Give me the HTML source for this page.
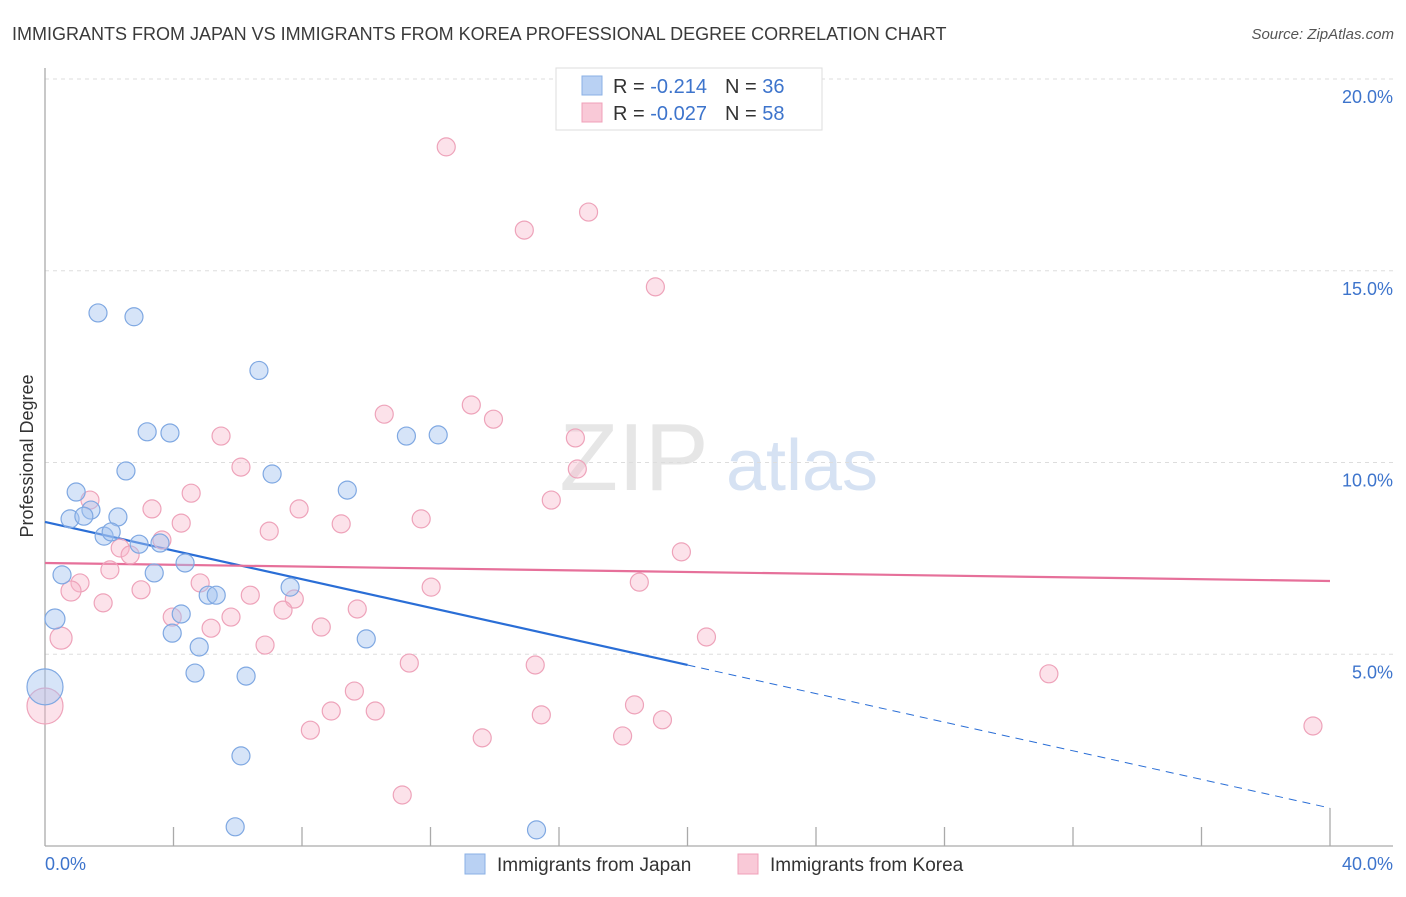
<!DOCTYPE html>
<html><head><meta charset="utf-8">
<style>
html,body{margin:0;padding:0;background:#fff;}
body{width:1406px;height:892px;overflow:hidden;font-family:"Liberation Sans",sans-serif;}
svg text{font-family:"Liberation Sans",sans-serif;}
</style></head>
<body>
<svg id="chart" width="1406" height="892" viewBox="0 0 1406 892" xmlns="http://www.w3.org/2000/svg">
<text x="12" y="40" font-size="18" fill="#3a3a3a">IMMIGRANTS FROM JAPAN VS IMMIGRANTS FROM KOREA PROFESSIONAL DEGREE CORRELATION CHART</text>
<text x="1394" y="39" font-size="15" fill="#555" font-style="italic" text-anchor="end">Source: ZipAtlas.com</text>
<g>
<text x="634" y="490" font-size="96" fill="#e6e6e6" font-family="Liberation Serif" text-anchor="middle">ZIP</text>
<text x="802" y="490" font-size="72" fill="#d6e2f3" text-anchor="middle">atlas</text>
</g>
<g id="grid"></g>
<g id="axes"></g>
<g id="trends"></g>
<g id="points"></g>
<text transform="translate(33,456) rotate(-90)" font-size="18" fill="#333" text-anchor="middle">Professional Degree</text>
<g>
<rect x="556" y="68" width="266" height="62" fill="#fff" stroke="#ddd"/>
<rect x="582" y="76" width="20" height="19" fill="#b9d1f3" stroke="#8ab0e6"/>
<rect x="582" y="103" width="20" height="19" fill="#f9c9d7" stroke="#f0a0b8"/>
<text x="613" y="93" font-size="20" fill="#333">R = <tspan fill="#3d74cc"> -0.214</tspan><tspan dx="18" fill="#333">N = </tspan><tspan fill="#3d74cc">36</tspan></text>
<text x="613" y="120" font-size="20" fill="#333">R = <tspan fill="#3d74cc">-0.027</tspan><tspan dx="18" fill="#333">N = </tspan><tspan fill="#3d74cc">58</tspan></text>
</g>
<g>
<rect x="465" y="854" width="20" height="20" fill="#b9d1f3" stroke="#8ab0e6"/>
<text x="497" y="871" font-size="19" fill="#333">Immigrants from Japan</text>
<rect x="738" y="854" width="20" height="20" fill="#f9c9d7" stroke="#f0a0b8"/>
<text x="770" y="871" font-size="19" fill="#333">Immigrants from Korea</text>
</g>
</svg>
<script>
const japanX=[1.65,2.77,6.66,3.18,3.89,11.25,12.24,2.52,7.07,9.41,0.97,1.43,0.78,1.21,2.27,1.84,2.06,2.93,3.58,0.53,3.4,4.36,7.63,5.08,5.33,4.24,0.31,3.96,4.8,10.0,4.67,6.26,0,6.1,5.92,15.3];
const japanY=[13.9,13.8,12.4,10.8,10.77,10.69,10.72,9.78,9.7,9.28,9.23,8.76,8.53,8.6,8.58,8.08,8.19,7.87,7.9,7.07,7.12,7.38,6.75,6.54,6.54,6.05,5.92,5.55,5.19,5.4,4.51,4.43,4.15,2.35,0.5,0.42];
const japanR=[9,9,9,9,9,9,9,9,9,9,9,9,9,9,9,9,9,9,9,9,9,9,9,9,9,9,10,9,9,9,9,9,18,9,9,9];
const koreaX=[12.49,16.92,14.92,19.0,13.27,10.56,13.96,5.48,16.51,6.1,16.57,1.4,4.55,15.76,3.33,7.91,4.24,11.71,9.22,6.98,2.34,2.65,3.64,19.81,2.02,1.09,4.83,18.5,12.02,0.81,2.99,6.39,7.76,1.81,7.41,9.72,3.96,5.79,5.17,8.6,0.5,20.59,6.85,11.34,15.26,31.25,9.63,18.35,8.91,10.28,15.45,19.22,39.47,8.26,13.61,17.98,11.12,0];
const koreaY=[18.23,16.53,16.06,14.58,11.5,11.26,11.13,10.69,10.64,9.88,9.83,9.02,9.2,9.02,8.79,8.79,8.42,8.53,8.4,8.21,7.77,7.59,7.98,7.67,7.2,6.86,6.86,6.88,6.75,6.65,6.68,6.54,6.44,6.34,6.15,6.18,5.97,5.97,5.68,5.71,5.42,5.45,5.24,4.77,4.72,4.49,4.04,3.68,3.52,3.52,3.42,3.29,3.13,3.02,2.82,2.87,1.33,3.65];
const koreaR=[9,9,9,9,9,9,9,9,9,9,9,9,9,9,9,9,9,9,9,9,9,9,9,9,9,9,9,9,9,10,9,9,9,9,9,9,9,9,9,9,11,9,9,9,9,9,9,9,9,9,9,9,9,9,9,9,9,18];
const yTicks=[5,10,15,20];
const yTickLabels=["5.0%","10.0%","15.0%","20.0%"];
const xTickValues=[0,4,8,12,16,20,24,28,32,36,40];
const xEndLabels=["0.0%","40.0%"];
const japanTrend=[8.45,0.99];
const koreaTrend=[7.38,6.91];

const NS="http://www.w3.org/2000/svg";
const X0=45,X1=1330,Y0=846,YS=38.35;
function sx(v){return X0+(X1-X0)*v/40;}
function sy(v){return Y0-v*YS;}
function mk(tag,attrs,parent){const e=document.createElementNS(NS,tag);for(const k in attrs)e.setAttribute(k,attrs[k]);parent.appendChild(e);return e;}
const grid=document.getElementById('grid'),axes=document.getElementById('axes'),trends=document.getElementById('trends'),pts=document.getElementById('points');
yTicks.forEach((t,i)=>{
  const l=mk('line',{x1:45,x2:1393,y1:sy(t),y2:sy(t),stroke:'#ddd','stroke-dasharray':'4,4'},grid);
  
  
  const tx=mk('text',{x:1393,y:sy(t)+24,'font-size':18,fill:'#3d74cc','text-anchor':'end'},axes);
  tx.textContent=yTickLabels[i];
  
  
});
const ya=mk('line',{x1:45,x2:45,y1:68,y2:Y0,stroke:'#aaa','stroke-width':1.3},axes);


const xa=mk('line',{x1:45,x2:1393,y1:Y0,y2:Y0,stroke:'#aaa','stroke-width':1.3},axes);


xTickValues.forEach((t,i)=>{
  const top=(i===xTickValues.length-1)?808:(i===0?Y0:827);
  const tk=mk('line',{x1:sx(t),x2:sx(t),y1:top,y2:Y0,stroke:'#aaa','stroke-width':1.3},axes);
  
  
});
const xl0=mk('text',{x:45,y:870,'font-size':18,fill:'#3d74cc'},axes);xl0.textContent=xEndLabels[0];


const xl1=mk('text',{x:1393,y:870,'font-size':18,fill:'#3d74cc','text-anchor':'end'},axes);xl1.textContent=xEndLabels[1];



function drawPts(xs,ys,rs,fill,stroke,name){
  xs.forEach((x,i)=>{
    const c=mk('circle',{cx:sx(x),cy:sy(ys[i]),r:rs[i],fill:fill,stroke:stroke,'stroke-width':1.2},pts);
    
    
  });
}
drawPts(koreaX,koreaY,koreaR,'rgba(248,182,202,0.4)','#eea3ba','point-korea');
drawPts(japanX,japanY,japanR,'rgba(165,196,240,0.45)','#7fa8e2','point-japan');

const jm=(x)=>japanTrend[0]+(japanTrend[1]-japanTrend[0])*x/40;
const jt=mk('line',{x1:sx(0),y1:sy(jm(0)),x2:sx(20),y2:sy(jm(20)),stroke:'#2a6ed6','stroke-width':2.2},trends);


const jd=mk('line',{x1:sx(20),y1:sy(jm(20)),x2:sx(40),y2:sy(jm(40)),stroke:'#2a6ed6','stroke-width':1,'stroke-dasharray':'8,6'},trends);


const kt=mk('line',{x1:sx(0),y1:sy(koreaTrend[0]),x2:sx(40),y2:sy(koreaTrend[1]),stroke:'#e6709a','stroke-width':2.2},trends);


</script>
</body></html>
